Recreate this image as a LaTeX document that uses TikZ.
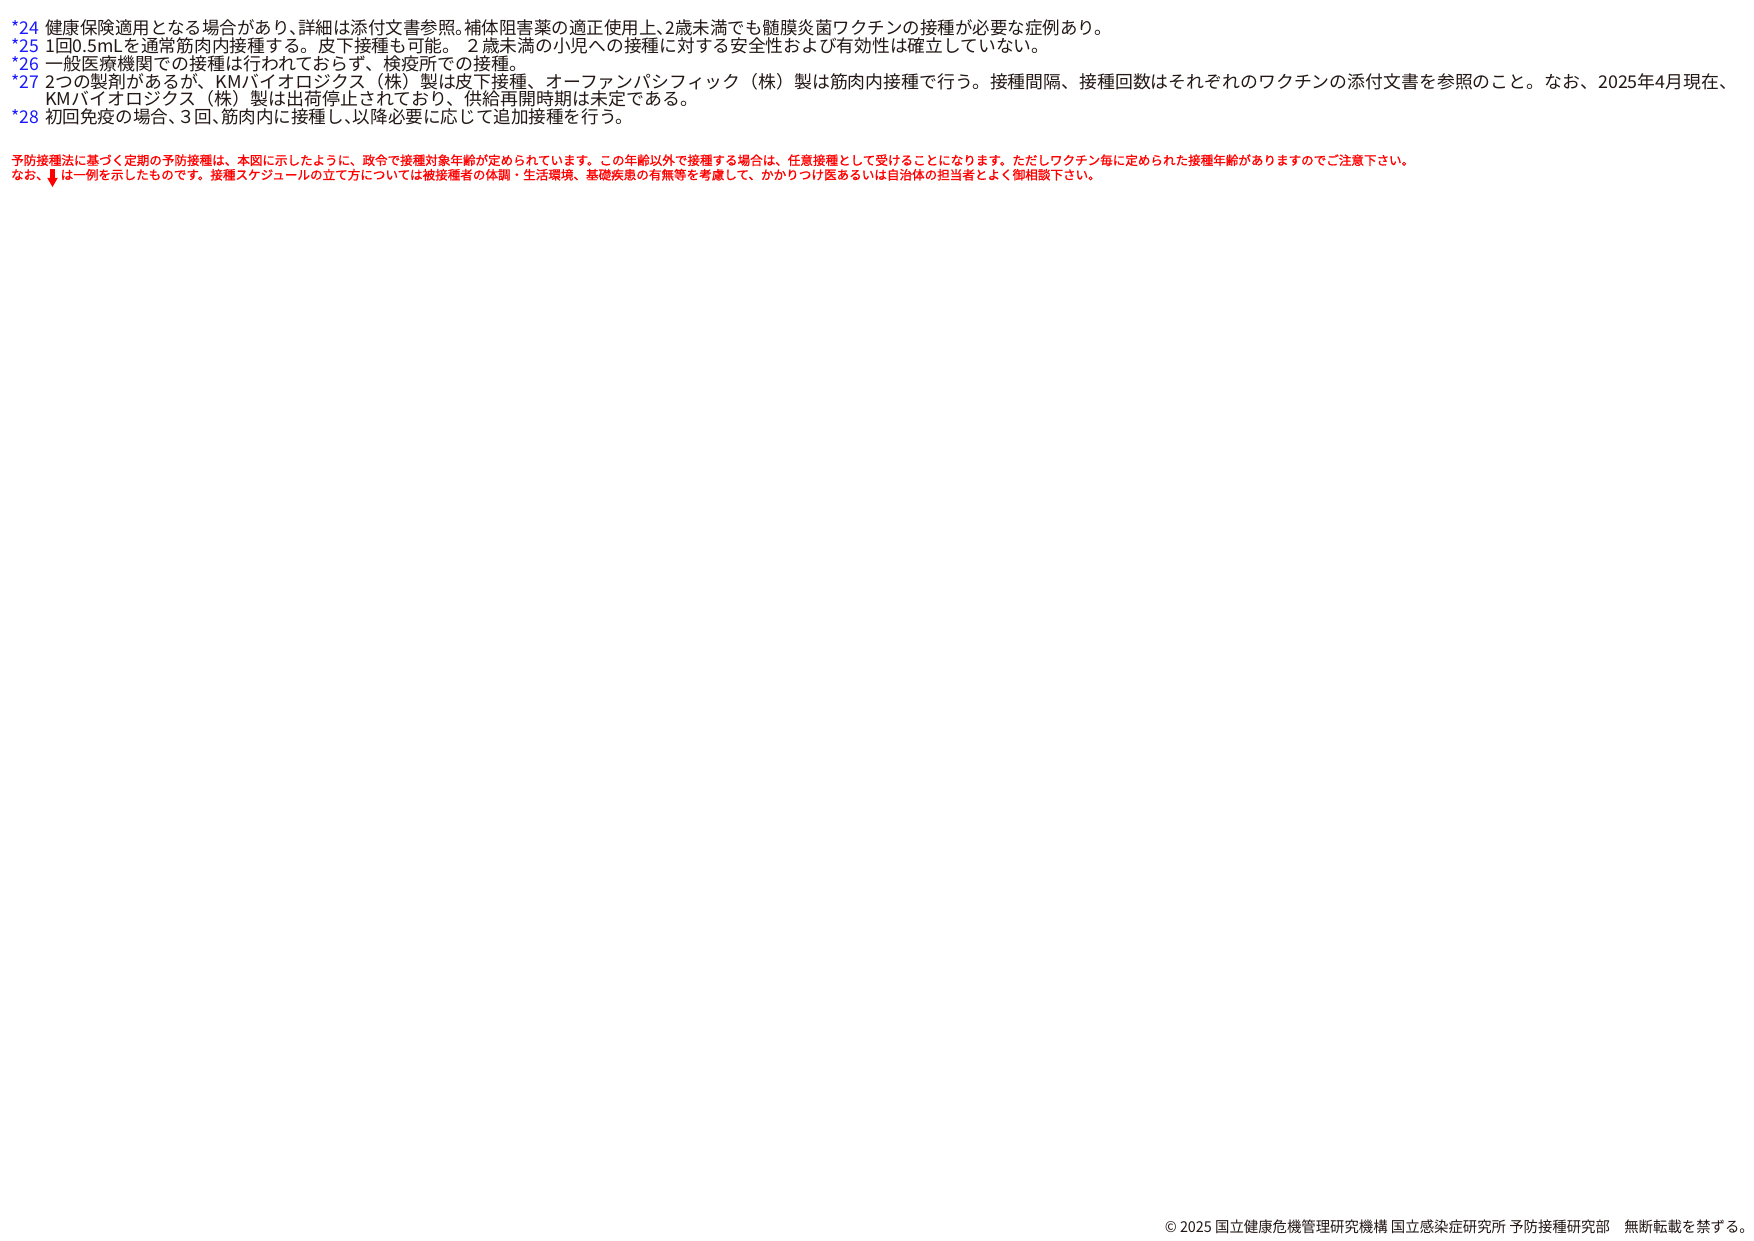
\documentclass[tikz,border=0pt]{standalone}
\usepackage{fontspec}
\setmainfont{Noto Sans CJK JP}
\newfontfamily\redfont[FakeBold=1.2]{Noto Sans CJK JP}
\usepackage{graphicx}
\definecolor{inkblack}{HTML}{231815}
\definecolor{noteblue}{HTML}{1A1AFF}
\definecolor{alertred}{HTML}{FF0000}
\newsavebox\fitbox
\newcommand\fitto[2]{\sbox\fitbox{#2}\pgfmathsetmacro\fitscale{#1/\the\wd\fitbox}\scalebox{\fitscale}[1]{\usebox\fitbox}}
\newcommand\np[1]{\makebox[0.5em][l]{#1}}
\tikzset{
  notelabel/.style={anchor=base west, inner sep=0pt, text=noteblue, font=\fontsize{17.6}{17.6}\selectfont},
  notetext/.style={anchor=base west, inner sep=0pt, text=inkblack, font=\fontsize{17.6}{17.6}\selectfont},
  redtext/.style={anchor=base west, inner sep=0pt, text=alertred, font=\redfont\fontsize{12.5}{12.5}\selectfont},
  foottext/.style={anchor=base east, inner sep=0pt, text=inkblack, font=\fontsize{15}{15}\selectfont},
}
\begin{document}
\begin{tikzpicture}[x=1pt,y=-1pt]
\fill[white] (0,0) rectangle (1754,1241);
\useasboundingbox (0,0) rectangle (1754,1241);
% notes
\node[notelabel] (l24) at (11,35) {*24};
\node[notetext] (t24) at (45,35) {\fitto{1067pt}{健康保険適用となる場合があり\np{、}詳細は添付文書参照\np{。}補体阻害薬の適正使用上\np{、}2歳未満でも髄膜炎菌ワクチンの接種が必要な症例あり。}};
\node[notelabel] (l25) at (11,52.7) {*25};
\node[notetext] (t25) at (45,52.7) {\fitto{1004pt}{1回0.5mLを通常筋肉内接種する。皮下接種も可能。 ２歳未満の小児への接種に対する安全性および有効性は確立していない。}};
\node[notelabel] (l26) at (11,70.4) {*26};
\node[notetext] (t26) at (45,70.4) {\fitto{482pt}{一般医療機関での接種は行われておらず、検疫所での接種。}};
\node[notelabel] (l27) at (11,88.1) {*27};
\node[notetext] (t27) at (45,88.1) {\fitto{1692pt}{2つの製剤があるが、KMバイオロジクス（株）製は皮下接種、オーファンパシフィック（株）製は筋肉内接種で行う。接種間隔、接種回数はそれぞれのワクチンの添付文書を参照のこと。なお、2025年4月現在、}};
\node[notetext] (t27b) at (45,105.8) {\fitto{653pt}{KMバイオロジクス（株）製は出荷停止されており、供給再開時期は未定である。}};
\node[notelabel] (l28) at (11,123.5) {*28};
\node[notetext] (t28) at (45,123.5) {\fitto{588pt}{初回免疫の場合\np{、}３回\np{、}筋肉内に接種し\np{、}以降必要に応じて追加接種を行う。}};
% red remarks
\node[redtext] (r1) at (11,165) {\fitto{1403pt}{予防接種法に基づく定期の予防接種は、本図に示したように、政令で接種対象年齢が定められています。この年齢以外で接種する場合は、任意接種として受けることになります。ただしワクチン毎に定められた接種年齢がありますのでご注意下さい。}};
\node[redtext] (r2a) at (11,179.5) {なお、};
\node[redtext] (r2b) at (60.5,179.5) {\fitto{1040pt}{は一例を示したものです。接種スケジュールの立て方については被接種者の体調・生活環境、基礎疾患の有無等を考慮して、かかりつけ医あるいは自治体の担当者とよく御相談下さい。}};
\fill[alertred] (50.4,169.5) rectangle (54.6,179);
\fill[alertred] (47.3,178) -- (57.7,178) -- (52.5,187) -- cycle;
% footer
\node[foottext] (foot) at (1754,1232.5) {\fitto{589pt}{© 2025 国立健康危機管理研究機構 国立感染症研究所 予防接種研究部　無断転載を禁ずる。}};
\end{tikzpicture}
\end{document}
